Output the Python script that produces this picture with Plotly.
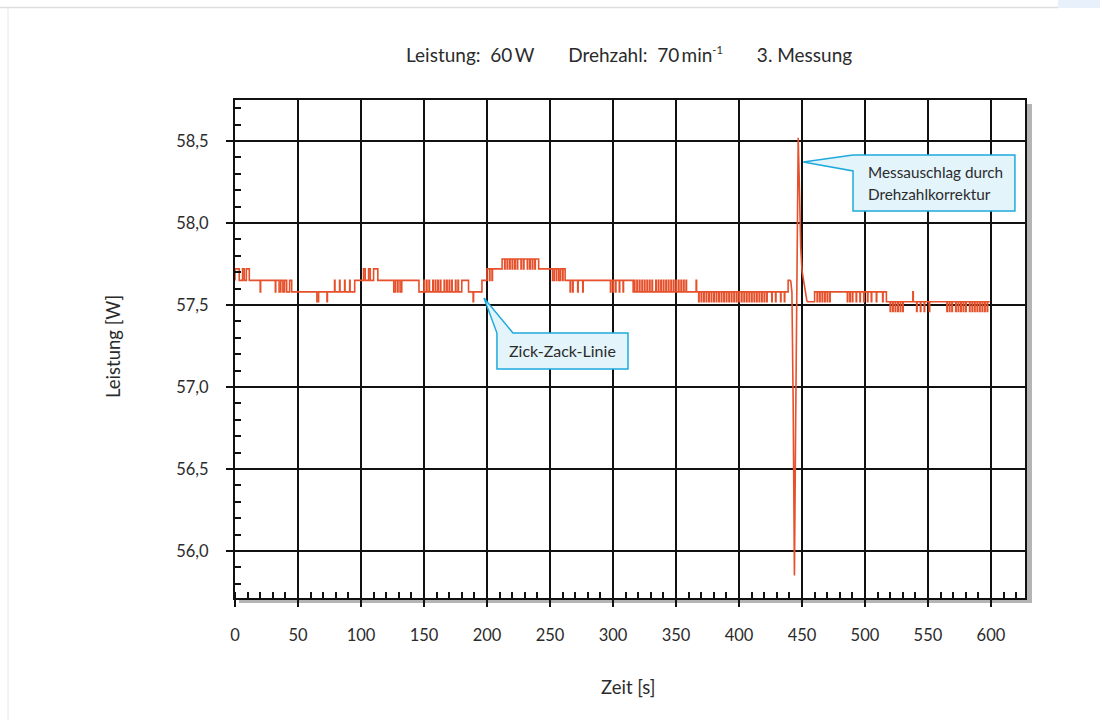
import numpy as np
import plotly.graph_objects as go

# ---- measured power trace (1 sample per second) ----
# plateau levels: start time [s] and level [W]
plateau_start = [0, 45, 95, 146, 196, 200, 212, 241, 262, 316, 367, 439, 454, 460, 517]
plateau_level = [57.65, 57.58, 57.65, 57.58, 57.65, 57.72, 57.78, 57.72, 57.65,
                 57.58, 57.58, 57.65, 57.52, 57.58, 57.52]

# short excursions, grouped by the level they jump to
pulses_57_72 = [0, 1, 2, 3, 6, 7, 9, 10, 11,
                102, 103, 106, 107, 110, 111, 112, 113,
                214, 216, 218, 220, 222, 224, 227, 229, 232, 234, 236, 238]
pulses_57_65 = [79, 83, 87, 91,
                150, 152, 154, 157, 159, 161, 163, 166, 168, 170, 172, 175, 177,
                180, 181, 182, 183, 184, 185,
                202, 204,
                252, 253, 255, 257, 258, 260,
                317, 319, 321, 323, 325, 327, 329, 331, 334, 336, 338, 340, 342,
                344, 346, 348, 350, 352, 354, 356, 358, 366]
pulses_57_58 = [20, 32, 35, 36, 38, 39, 41, 42, 43,
                126, 127, 129, 131, 132,
                266, 268, 272, 276, 298, 300, 302, 305, 308,
                538]
pulses_57_52 = [65, 66, 73, 189,
                368, 370, 372, 374, 376, 378, 380, 382, 384, 386, 388, 390, 392,
                394, 396, 398, 400, 402, 404, 406, 408, 410, 412, 414, 416, 418,
                420, 422, 426, 429, 433, 436,
                462, 464, 466, 468, 470, 472,
                486, 488, 490, 493, 496, 499, 502, 505, 509, 514]
pulses_57_46 = [520, 522, 524, 526, 528, 530, 541, 544, 547, 551,
                565, 567, 569, 572, 574, 576, 578, 580, 583, 585, 587, 589, 591,
                593, 595, 597]

# transient caused by the speed correction (drawn point to point)
spike_time = [441, 442, 443, 444, 445, 446, 447, 448, 449, 450, 451, 452, 453,
              454]
spike_level = [57.65, 57.58, 56.90, 55.85, 56.80, 57.90, 58.52, 58.20, 57.85,
               57.71, 57.66, 57.60, 57.55, 57.52]

T_END = 599
PULSE_WIDTH = 0.35   # s, how long a single excursion is held

t = np.arange(0, T_END + 1)
idx = np.searchsorted(plateau_start, t, side="right") - 1
base = np.array(plateau_level, dtype=float)[idx]

pulse_at = {}
for lvl, times in [(57.72, pulses_57_72), (57.65, pulses_57_65),
                   (57.58, pulses_57_58), (57.52, pulses_57_52),
                   (57.46, pulses_57_46)]:
    for tt in times:
        pulse_at[tt] = lvl

# stepped part of the trace, with a gap where the transient is drawn
xs, ys = [], []
for tt in t:
    tt = int(tt)
    if spike_time[0] < tt < spike_time[-1]:
        xs.append(tt)
        ys.append(None)
        continue
    lvl = pulse_at.get(tt)
    continuing = lvl is not None and pulse_at.get(tt - 1) == lvl
    if not continuing:
        xs.append(tt)
        ys.append(base[tt])
    if lvl is not None:
        xs.append(tt)
        ys.append(lvl)
        if pulse_at.get(tt + 1) != lvl:
            xs.append(tt + PULSE_WIDTH)
            ys.append(base[tt])

# ---- axes geometry ----
X_RANGE = [0, 627]
Y_RANGE = [55.713, 58.75]
L, R, T, B = 235, 75, 100, 122
W, H = 1100, 720
PW, PH = W - L - R, H - T - B

FONT = "Lato"
INK = "#111111"
TXT = "#2b2b2b"
LINE = "#e6502a"
BOX_FILL = "#e3f4fb"
BOX_EDGE = "#1fa9dd"

fig = go.Figure()
fig.add_trace(go.Scatter(x=xs, y=ys, mode="lines", line_shape="hv",
                         connectgaps=False,
                         line=dict(color=LINE, width=1.6),
                         hoverinfo="skip", showlegend=False))
fig.add_trace(go.Scatter(x=spike_time, y=spike_level, mode="lines",
                         line=dict(color=LINE, width=1.6),
                         hoverinfo="skip", showlegend=False))


def px(xp):
    return (xp - L) / PW


def py(yp):
    return (H - B - yp) / PH


shapes = []
# drop shadow along the right and bottom of the frame
shapes.append(dict(type="rect", xref="paper", yref="paper", layer="below",
                   x0=px(1026), x1=px(1032), y0=py(601), y1=py(104),
                   fillcolor="#b4b4b4", line_width=0))
shapes.append(dict(type="rect", xref="paper", yref="paper", layer="below",
                   x0=px(239), x1=px(1032), y0=py(603), y1=py(599),
                   fillcolor="#b4b4b4", line_width=0))
# page frame
shapes.append(dict(type="line", xref="paper", yref="paper",
                   x0=px(0), x1=px(1058), y0=py(7.5), y1=py(7.5),
                   line=dict(color="#dedede", width=1.5)))
shapes.append(dict(type="line", xref="paper", yref="paper",
                   x0=px(8), x1=px(8), y0=py(8), y1=py(720),
                   line=dict(color="#e6e6e6", width=1)))
shapes.append(dict(type="rect", xref="paper", yref="paper",
                   x0=px(1058), x1=px(1100), y0=py(8), y1=py(0),
                   fillcolor="#e8f1fb", line_width=0))


def callout(points):
    path = "M " + " L ".join(f"{x},{y}" for x, y in points) + " Z"
    return dict(type="path", xref="x", yref="y", path=path, layer="above",
                fillcolor=BOX_FILL, line=dict(color=BOX_EDGE, width=1.5))


# callout for the transient: tip, then box outline
shapes.append(callout([(451.0, 58.372), (490.5, 58.415), (619.0, 58.415),
                       (619.0, 58.073), (490.5, 58.073), (490.5, 58.317)]))
# callout for the zig-zag line
shapes.append(callout([(197.6, 57.543), (220.6, 57.329), (311.9, 57.329),
                       (311.9, 57.110), (207.9, 57.110), (207.9, 57.329)]))

NB = "\u00a0"
annotations = [
    dict(text=f"Leistung:{NB*2}60\u2009W{NB*7}"
              f"Drehzahl:{NB*2}70\u2009min<sup><span style='font-size:11px'>-1</span></sup>{NB*7}"
              "3. Messung",
         xref="paper", yref="paper", x=px(629), y=py(55),
         xanchor="center", yanchor="middle", showarrow=False,
         font=dict(family=FONT, size=19, color=TXT)),
    dict(text="Leistung [W]", xref="paper", yref="paper", x=px(113), y=py(347),
         xanchor="center", yanchor="middle", textangle=-90, showarrow=False,
         font=dict(family=FONT, size=18.5, color=TXT)),
    dict(text="Zeit [s]", xref="paper", yref="paper", x=px(628), y=py(687),
         xanchor="center", yanchor="middle", showarrow=False,
         font=dict(family=FONT, size=18.5, color=TXT)),
    dict(text="Messauschlag durch", xref="x", yref="y", x=501.0, y=58.311,
         xanchor="left", yanchor="middle", showarrow=False,
         font=dict(family=FONT, size=15.3, color=TXT)),
    dict(text="Drehzahlkorrektur", xref="x", yref="y", x=501.0, y=58.177,
         xanchor="left", yanchor="middle", showarrow=False,
         font=dict(family=FONT, size=15.3, color=TXT)),
    dict(text="Zick-Zack-Linie", xref="x", yref="y", x=259.9, y=57.22,
         xanchor="center", yanchor="middle", showarrow=False,
         font=dict(family=FONT, size=16, color=TXT)),
]

axis_common = dict(showline=True, linecolor=INK, linewidth=2, mirror=True,
                   showgrid=True, gridcolor=INK, gridwidth=2, zeroline=False,
                   ticks="outside", ticklen=7, tickwidth=2, tickcolor=INK,
                   tickfont=dict(family=FONT, size=16.5, color=TXT))

fig.update_layout(
    width=W, height=H,
    margin=dict(l=L, r=R, t=T, b=B, pad=0),
    paper_bgcolor="white", plot_bgcolor="white",
    separators=",.",
    showlegend=False,
    shapes=shapes,
    annotations=annotations,
    xaxis=dict(range=X_RANGE, tick0=0, dtick=50, ticklabelstandoff=14,
               minor=dict(ticks="inside", dtick=10, ticklen=6, tickwidth=1.5,
                          tickcolor=INK, showgrid=False),
               **axis_common),
    yaxis=dict(range=Y_RANGE, tick0=56.0, dtick=0.5, tickformat=".1f",
               ticklabelstandoff=14,
               minor=dict(ticks="inside", dtick=0.1, ticklen=6, tickwidth=1.5,
                          tickcolor=INK, showgrid=False),
               **axis_common),
)

fig.write_html("out.html")
